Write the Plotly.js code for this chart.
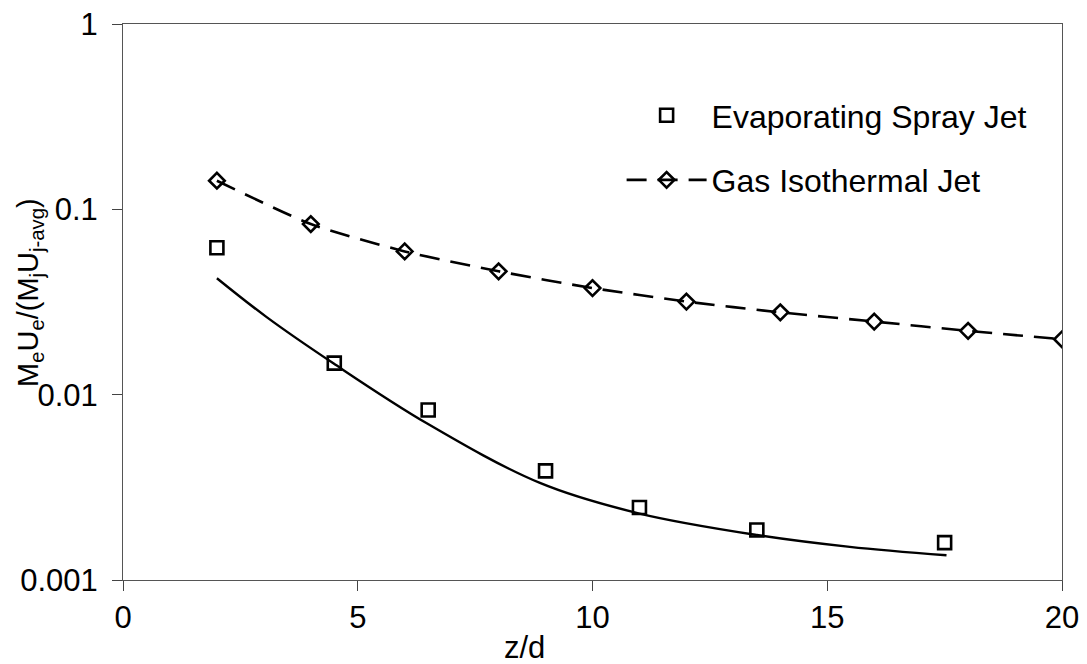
<!DOCTYPE html>
<html>
<head>
<meta charset="utf-8">
<script src="https://cdn.plot.ly/plotly-3.0.1.min.js"></script>
<style>
  html, body { margin: 0; padding: 0; background: #fff; }
  #chart { width: 1087px; height: 664px; }
</style>
</head>
<body>
<div id="chart"></div>
<script>
// Axial position (z/d) and normalised momentum flux for each jet
const sprayZ = [2, 4.5, 6.5, 9, 11, 13.5, 17.5];
const sprayFlux = [0.0621, 0.0148, 0.00826, 0.00388, 0.00246, 0.00186, 0.00159];

const gasZ = [2, 4, 6, 8, 10, 12, 14, 16, 18, 20];
const gasFlux = [0.1427, 0.0833, 0.0593, 0.0463, 0.0376, 0.0318, 0.0278, 0.0248, 0.0221, 0.0199];

// Fitted curve through the spray-jet data
const fitZ = [2, 3.06, 4.48, 6.47, 8.88, 10.98, 13.5, 15.48, 17.54];
const fitFlux = [0.0425, 0.0262, 0.01476, 0.00701, 0.00334, 0.00229, 0.00175, 0.00151, 0.00136];

const xTicks = [0, 5, 10, 15, 20];
const yTicks = [1, 0.1, 0.01, 0.001];
const yTickText = ['1', '0.1', '0.01', '0.001'];

const FONT = 'Liberation Sans, Arial, sans-serif';

const traces = [
  {
    x: sprayZ, y: sprayFlux,
    type: 'scatter', mode: 'markers',
    name: 'Evaporating Spray Jet',
    legendgroup: 'spray',
    marker: { symbol: 'square-open', size: 13, color: '#000', line: { width: 2.6, color: '#000' } }
  },
  {
    x: gasZ, y: gasFlux,
    type: 'scatter', mode: 'lines+markers',
    name: 'Gas Isothermal Jet',
    legendgroup: 'gas',
    line: { color: '#000', width: 2.6, dash: '20px,11px', shape: 'spline', smoothing: 0.6 },
    marker: { symbol: 'diamond-open', size: 12, color: '#000', line: { width: 2.6, color: '#000' } }
  },
  {
    x: fitZ, y: fitFlux,
    type: 'scatter', mode: 'lines',
    showlegend: false,
    line: { color: '#000', width: 2.4, shape: 'spline', smoothing: 1 }
  }
];

const layout = {
  width: 1087,
  height: 664,
  margin: { l: 123, r: 25, t: 24, b: 84 },
  paper_bgcolor: '#fff',
  plot_bgcolor: '#fff',
  font: { family: FONT, color: '#000', size: 31 },
  showlegend: true,
  legend: {
    x: 0.531, y: 0.885, xanchor: 'left', yanchor: 'top',
    bgcolor: 'rgba(0,0,0,0)',
    font: { family: FONT, size: 32, color: '#000' },
    traceorder: 'grouped',
    tracegroupgap: 20,
    itemwidth: 80
  },
  xaxis: {
    range: [0, 20],
    tickvals: xTicks,
    ticktext: xTicks.map(String),
    ticks: 'outside', ticklen: 10, tickwidth: 1, tickcolor: '#444',
    showline: true, linecolor: '#555', linewidth: 1, mirror: true,
    showgrid: false, zeroline: false,
    tickfont: { family: FONT, size: 31, color: '#000' }
  },
  yaxis: {
    type: 'log',
    range: [-3, 0],
    tickvals: yTicks,
    ticktext: yTickText,
    ticks: 'outside', ticklen: 10, tickwidth: 1, tickcolor: '#444',
    showline: true, linecolor: '#555', linewidth: 1, mirror: true,
    showgrid: false, zeroline: false,
    ticklabelstandoff: 8,
    tickfont: { family: FONT, size: 31, color: '#000' }
  },
  annotations: [
    {
      text: 'M<sub>e</sub>U<sub>e</sub>/(M<sub>j</sub>U<sub>j-avg</sub>)',
      xref: 'paper', yref: 'paper',
      x: (30 - 123) / 939, y: 1 - (293 - 24) / 556,
      xanchor: 'center', yanchor: 'middle',
      textangle: -90, showarrow: false,
      font: { family: FONT, size: 29, color: '#000' }
    },
    {
      text: 'z/d',
      xref: 'paper', yref: 'paper',
      x: (524 - 123) / 939, y: -(647 - 580) / 556,
      xanchor: 'center', yanchor: 'middle',
      showarrow: false,
      font: { family: FONT, size: 31, color: '#000' }
    }
  ]
};

Plotly.newPlot('chart', traces, layout, { displayModeBar: false, staticPlot: true });
</script>
</body>
</html>
